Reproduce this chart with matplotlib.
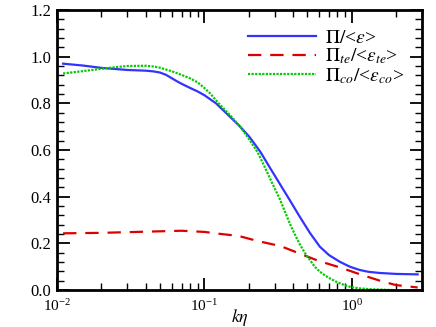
import numpy as np
import matplotlib.pyplot as plt
from matplotlib.ticker import MultipleLocator, LogLocator, NullFormatter

plt.rcParams['font.family'] = ['Liberation Serif', 'DejaVu Serif']
plt.rcParams['mathtext.fontset'] = 'stix'

# Pi/<eps> total
k_tot = [0.011, 0.015, 0.02, 0.03, 0.04, 0.045, 0.05, 0.055, 0.06, 0.065, 0.07, 0.08,
         0.09, 0.1, 0.12, 0.149, 0.175, 0.203, 0.24, 0.278, 0.325, 0.38, 0.444, 0.52,
         0.607, 0.7, 0.83, 0.97, 1.13, 1.3, 1.55, 2.0, 2.8]
pi_tot = [0.97, 0.962, 0.952, 0.943, 0.94, 0.937, 0.932, 0.922, 0.908, 0.895, 0.884, 0.866,
          0.851, 0.835, 0.80, 0.743, 0.70, 0.655, 0.592, 0.525, 0.455, 0.385, 0.314, 0.245,
          0.186, 0.15, 0.121, 0.1, 0.086, 0.078, 0.073, 0.069, 0.067]

# Pi_te/<eps_te>
k_te = [0.011, 0.02, 0.04, 0.07, 0.1, 0.13, 0.17, 0.23, 0.33, 0.44, 0.6,
        0.83, 1.13, 1.55, 2.0, 2.8]
pi_te = [0.243, 0.245, 0.25, 0.254, 0.249, 0.24, 0.232, 0.21, 0.188, 0.157, 0.124,
         0.097, 0.068, 0.04, 0.021, 0.011]

# Pi_co/<eps_co>
k_co = [0.011, 0.015, 0.02, 0.025, 0.03, 0.04, 0.045, 0.05, 0.061, 0.07, 0.08, 0.09,
        0.1, 0.109, 0.125, 0.149, 0.175, 0.203, 0.23, 0.26, 0.29, 0.325, 0.35, 0.38,
        0.41, 0.444, 0.48, 0.52, 0.56, 0.607, 0.66, 0.71, 0.77, 0.83, 0.9, 0.97,
        1.05, 1.13, 1.3, 1.55, 1.9]
pi_co = [0.928, 0.938, 0.948, 0.955, 0.96, 0.961, 0.958, 0.953, 0.936, 0.922, 0.907, 0.89,
         0.866, 0.844, 0.80, 0.75, 0.70, 0.643, 0.59, 0.52, 0.455, 0.39, 0.34, 0.285,
         0.24, 0.196, 0.16, 0.129, 0.1, 0.079, 0.062, 0.05, 0.038, 0.029, 0.02, 0.014,
         0.01, 0.007, 0.004, 0.002, 0.0]

fig = plt.figure(figsize=(4.36, 3.27), dpi=100)
ax = fig.add_axes([0.1307, 0.1131, 0.968 - 0.1307, 0.9694 - 0.1131])

ax.plot(k_tot, pi_tot, color='#3333ff', lw=1.6, label=r'$\Pi/$<$\varepsilon$>')
ax.plot(k_te, pi_te, color='#dd0000', lw=1.6, dashes=(6, 4),
        label=r'$\Pi_{te}/$<$\varepsilon_{te}$>')
ax.plot(k_co, pi_co, color='#00cc00', lw=1.6, linestyle=(0, (1, 0.6)),
        label=r'$\Pi_{co}/$<$\varepsilon_{co}$>')

ax.set_xscale('log')
ax.set_xlim(0.01, 3)
ax.set_ylim(0, 1.2)
ax.yaxis.set_major_locator(MultipleLocator(0.2))
ax.yaxis.set_minor_locator(MultipleLocator(0.04))
ax.yaxis.set_major_formatter(plt.FormatStrFormatter('%.1f'))
ax.xaxis.set_minor_locator(LogLocator(base=10, subs=np.arange(2, 10)))
ax.xaxis.set_minor_formatter(NullFormatter())

ax.tick_params(which='both', direction='in', top=True, right=True, labelsize=12)
ax.tick_params(which='major', length=9, width=1.3)
ax.tick_params(which='minor', length=5, width=1.0)
ax.tick_params(axis='x', which='major', pad=6, labelsize=11)
ax.tick_params(axis='y', which='major', pad=4)
for s in ax.spines.values():
    s.set_linewidth(2)

ax.set_xlabel(r'$k\eta$', fontsize=13, labelpad=-5)

ax.legend(loc='upper right', frameon=False, fontsize=14, handlelength=3.5,
          handletextpad=0.5, labelspacing=0.0, borderaxespad=0.5,
          bbox_to_anchor=(1.0, 0.995))

plt.savefig('out.png', dpi=100)
